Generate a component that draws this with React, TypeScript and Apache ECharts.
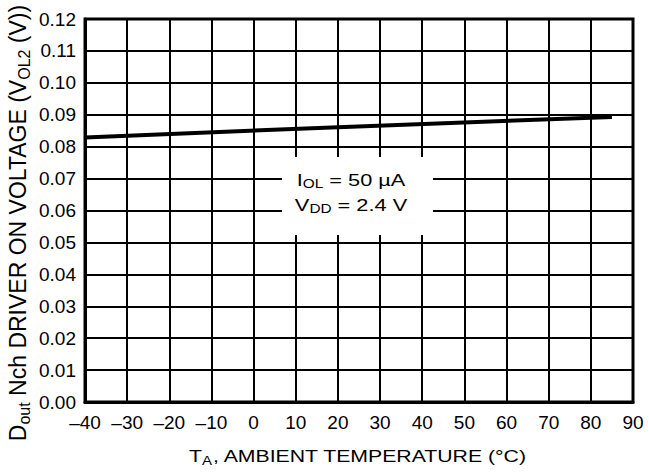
import React, { useEffect, useRef } from "react";
import * as echarts from "echarts";

const tempPoints: number[] = [-40, 20, 85];
const voltValues: number[] = [0.0829, 0.0861, 0.0893];
const xTicks = { min: -40, max: 90, step: 10 };
const yTicks = { min: 0, max: 0.12, step: 0.01 };

const FONT = "'Liberation Sans', Arial, sans-serif";

export default function App() {
  const ref = useRef<HTMLDivElement>(null);
  useEffect(() => {
    if (!ref.current) return;
    const chart = echarts.init(ref.current, null, { renderer: "svg" });
    const data = tempPoints.map((t, i) => [t, voltValues[i]]);
    const subStyle = { fontSize: 12, fontFamily: FONT, color: "#000", padding: [10, 0, 0, 0] };
    const baseStyle = { fontSize: 17, fontFamily: FONT, color: "#000", lineHeight: 20 };
    chart.setOption({
      animation: false,
      backgroundColor: "#fff",
      grid: {
        left: 85,
        right: 16,
        top: 19,
        bottom: 72,
        show: true,
        borderColor: "#000",
        borderWidth: 3,
        backgroundColor: "transparent",
      },
      xAxis: {
        type: "value",
        min: xTicks.min,
        max: xTicks.max,
        interval: xTicks.step,
        axisLine: { show: true, onZero: false, lineStyle: { color: "#000", width: 3 } },
        axisTick: { show: false },
        splitLine: { show: true, lineStyle: { color: "#000", width: 2 } },
        axisLabel: {
          color: "#000",
          fontSize: 19,
          fontFamily: FONT,
          margin: 11,
          formatter: (v: number) => String(v).replace("-", "\u2013"),
        },
      },
      yAxis: {
        type: "value",
        min: yTicks.min,
        max: yTicks.max,
        interval: yTicks.step,
        axisLine: { show: true, onZero: false, lineStyle: { color: "#000", width: 3 } },
        axisTick: { show: false },
        splitLine: { show: true, lineStyle: { color: "#000", width: 2 } },
        axisLabel: {
          color: "#000",
          fontSize: 19,
          fontFamily: FONT,
          margin: 9,
          formatter: (v: number) => v.toFixed(2),
        },
      },
      series: [
        {
          type: "line",
          data,
          symbol: "none",
          lineStyle: { color: "#000", width: 4 },
          z: 5,
        },
      ],
      graphic: [
        {
          type: "rect",
          shape: { x: 282, y: 157, width: 151, height: 78 },
          style: { fill: "#fff" },
          z: 50,
        },
        {
          type: "text",
          x: 351,
          y: 192,
          scaleX: 1.28,
          z: 51,
          style: {
            text: "I{sub|OL} = 50 µA\nV{sub|DD} = 2.4 V",
            align: "center",
            verticalAlign: "middle",
            ...baseStyle,
            lineHeight: 25,
            rich: { sub: subStyle },
          },
        },
        {
          type: "text",
          x: 358,
          y: 456,
          scaleX: 1.25,
          z: 51,
          style: {
            text: "T{sub|A}, AMBIENT TEMPERATURE (°C)",
            align: "center",
            verticalAlign: "middle",
            ...baseStyle,
            rich: { sub: subStyle },
          },
        },
        {
          type: "text",
          x: 18,
          y: 223,
          rotation: Math.PI / 2,
          z: 51,
          style: {
            text: "D{sub|out} Nch DRIVER ON VOLTAGE (V{sub|OL2} (V))",
            align: "center",
            verticalAlign: "middle",
            fontSize: 23,
            fontFamily: FONT,
            color: "#000",
            lineHeight: 26,
            rich: { sub: { fontSize: 16, fontFamily: FONT, color: "#000", padding: [12, 0, 0, 0] } },
          },
        },
      ],
    });
    return () => chart.dispose();
  }, []);
  return (
    <div
      ref={ref}
      style={{ position: "fixed", left: 0, top: 0, width: 649, height: 474, background: "#fff" }}
    />
  );
}
